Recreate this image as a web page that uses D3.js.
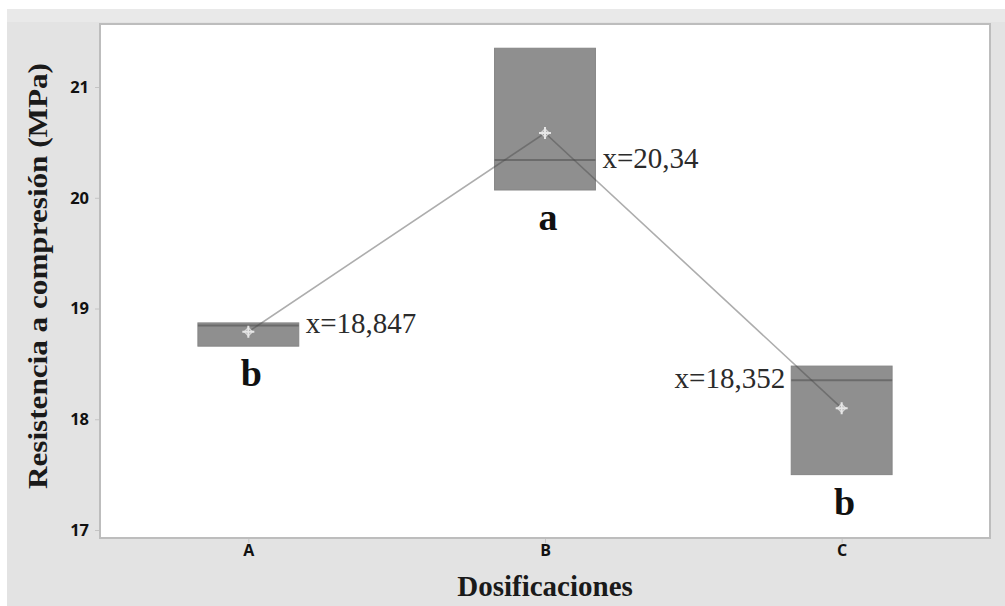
<!DOCTYPE html>
<html>
<head>
<meta charset="utf-8">
<script src="https://cdn.jsdelivr.net/npm/d3@7/dist/d3.min.js"></script>
<style>
  html, body { margin: 0; padding: 0; background: #ffffff; }
  svg { display: block; }
</style>
</head>
<body>
<div id="chart"></div>
<script>
// Compressive strength per mix design: interquartile box, median line, mean marker
const categories = ["A", "B", "C"];
const q1Values = [18.66, 20.07, 17.50];
const q3Values = [18.87, 21.35, 18.48];
const medianValues = [18.847, 20.34, 18.352];
const medianLabels = ["x=18,847", "x=20,34", "x=18,352"];
const meanValues = [18.79, 20.585, 18.10];
const groupLetters = ["b", "a", "b"];
const yTicks = [17, 18, 19, 20, 21];

const W = 1005, H = 606;
const plot = { left: 100, right: 990, top: 24, bottom: 538 };

const svg = d3.select("#chart").append("svg")
  .attr("width", W).attr("height", H);

// window background
svg.append("rect").attr("x", 0).attr("y", 0).attr("width", W).attr("height", H).attr("fill", "#ffffff");
svg.append("rect").attr("x", 7).attr("y", 9).attr("width", W - 7).attr("height", H - 9).attr("fill", "#e3e3e3");
svg.append("rect").attr("x", 7).attr("y", 9).attr("width", W - 7).attr("height", 13).attr("fill", "#e9e9e9");

// plotting region
svg.append("rect")
  .attr("x", plot.left).attr("y", plot.top)
  .attr("width", plot.right - plot.left).attr("height", plot.bottom - plot.top)
  .attr("fill", "#ffffff").attr("stroke", "#bdbdbd").attr("stroke-width", 2);

const y = d3.scaleLinear().domain([17, 21]).range([530, 87]);
const x = d3.scalePoint().domain(categories).range([plot.left, plot.right]).padding(0.5);
const boxW = x.step() * 0.34;

// axes
const yAxis = svg.append("g")
  .attr("transform", `translate(${plot.left - 1},0)`)
  .call(d3.axisLeft(y).tickValues(yTicks).tickSize(4).tickPadding(6).tickFormat(d3.format("d")));
yAxis.select(".domain").remove();
yAxis.selectAll(".tick line").attr("stroke", "#c4c4c4");
yAxis.selectAll(".tick text")
  .attr("fill", "#111").attr("font-family", "'Open Sans', 'DejaVu Sans', sans-serif")
  .attr("font-weight", "bold").attr("font-size", 16.5);

const xAxis = svg.append("g")
  .attr("transform", `translate(0,${plot.bottom + 1})`)
  .call(d3.axisBottom(x).tickSize(4).tickPadding(2));
xAxis.select(".domain").remove();
xAxis.selectAll(".tick line").attr("stroke", "#c4c4c4");
xAxis.selectAll(".tick text")
  .attr("fill", "#111").attr("font-family", "'Open Sans', 'DejaVu Sans', sans-serif")
  .attr("font-weight", "bold").attr("font-size", 16);

// axis titles
svg.append("text")
  .attr("transform", `translate(47,276) rotate(-90)`)
  .attr("text-anchor", "middle")
  .attr("font-family", "'Liberation Serif', 'Times New Roman', serif")
  .attr("font-weight", "bold").attr("font-size", 27).attr("fill", "#1a1a1a")
  .attr("textLength", 426).attr("lengthAdjust", "spacingAndGlyphs")
  .text("Resistencia a compresión (MPa)");

svg.append("text")
  .attr("x", 545).attr("y", 596)
  .attr("text-anchor", "middle")
  .attr("font-family", "'Liberation Serif', 'Times New Roman', serif")
  .attr("font-weight", "bold").attr("font-size", 29).attr("fill", "#1a1a1a")
  .text("Dosificaciones");

const rows = categories.map((c, i) => ({
  cat: c, q1: q1Values[i], q3: q3Values[i], med: medianValues[i],
  medLabel: medianLabels[i], mean: meanValues[i], letter: groupLetters[i], i
}));

// boxes
svg.append("g").selectAll("rect").data(rows).join("rect")
  .attr("x", d => x(d.cat) - boxW / 2)
  .attr("y", d => y(d.q3))
  .attr("width", boxW)
  .attr("height", d => y(d.q1) - y(d.q3))
  .attr("fill", "#8f8f8f").attr("stroke", "#858585").attr("stroke-width", 1);

// median lines
svg.append("g").selectAll("line").data(rows).join("line")
  .attr("x1", d => x(d.cat) - boxW / 2).attr("x2", d => x(d.cat) + boxW / 2)
  .attr("y1", d => y(d.med)).attr("y2", d => y(d.med))
  .attr("stroke", "#6b6b6b").attr("stroke-width", 2);

// line connecting the means
svg.append("path")
  .datum(rows)
  .attr("d", d3.line().x(d => x(d.cat)).y(d => y(d.mean)))
  .attr("fill", "none").attr("stroke", "#4a4a4a").attr("stroke-opacity", 0.45).attr("stroke-width", 1.6);

// mean markers
const mk = svg.append("g").selectAll("g").data(rows).join("g")
  .attr("transform", d => `translate(${x(d.cat)},${y(d.mean)})`);
mk.append("path").attr("d", "M0,-4L4,0L0,4L-4,0Z").attr("fill", "none").attr("stroke", "#d4d4d4").attr("stroke-width", 1.5);
mk.append("path").attr("d", "M-6,0H6M0,-6V6").attr("stroke", "#e6e6e6").attr("stroke-width", 2);

// median value labels
svg.append("g").selectAll("text").data(rows).join("text")
  .attr("x", d => d.i === rows.length - 1 ? x(d.cat) - boxW / 2 - 6 : x(d.cat) + boxW / 2 + 7)
  .attr("y", d => y(d.med) + 8)
  .attr("text-anchor", d => d.i === rows.length - 1 ? "end" : "start")
  .attr("font-family", "'Liberation Serif', 'Times New Roman', serif")
  .attr("font-size", 29).attr("fill", "#2b2b2b")
  .text(d => d.medLabel);

// grouping letters
svg.append("g").selectAll("text").data(rows).join("text")
  .attr("x", d => x(d.cat) + 3)
  .attr("y", d => y(d.q1) + 40)
  .attr("text-anchor", "middle")
  .attr("font-family", "'Liberation Serif', 'Times New Roman', serif")
  .attr("font-weight", "bold").attr("font-size", 38).attr("fill", "#111")
  .text(d => d.letter);
</script>
</body>
</html>
